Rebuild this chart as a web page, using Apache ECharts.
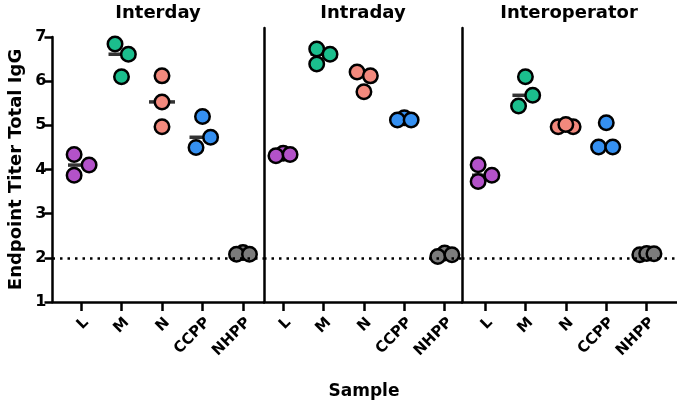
<!DOCTYPE html>
<html>
<head>
<meta charset="utf-8">
<script src="https://cdn.jsdelivr.net/npm/echarts@6/dist/echarts.min.js"></script>
<style>
html,body{margin:0;padding:0;background:#fff;}
#chart{width:677px;height:406px;}
</style>
</head>
<body>
<div id="chart"></div>
<script>
const categories = ['L', 'M', 'N', 'CCPP', 'NHPP'];
const panelNames = ['Interday', 'Intraday', 'Interoperator'];
const colors = ['#B352C9', '#1BBE8D', '#F2897D', '#3590F1', '#7C7C7C'];
const yTicks = [1, 2, 3, 4, 5, 6, 7];
const thresholdValue = 2;

// values per category (L, M, N, CCPP, NHPP)
const interdayValues = [
  [4.34, 4.10, 3.87],
  [6.84, 6.61, 6.10],
  [6.12, 5.53, 4.97],
  [5.20, 4.73, 4.50],
  [2.12, 2.08, 2.08]
];
const interdayJitter = [
  [-0.17, 0.20, -0.17],
  [-0.16, 0.17, 0.00],
  [0.00, 0.00, 0.00],
  [0.00, 0.20, -0.16],
  [0.00, -0.16, 0.16]
];
const intradayValues = [
  [4.37, 4.31, 4.34],
  [6.73, 6.61, 6.39],
  [6.21, 6.12, 5.76],
  [5.17, 5.12, 5.12],
  [2.11, 2.03, 2.07]
];
const intradayJitter = [
  [0.00, -0.18, 0.17],
  [-0.17, 0.16, -0.17],
  [-0.17, 0.16, 0.00],
  [0.00, -0.17, 0.17],
  [0.00, -0.17, 0.18]
];
const interoperatorValues = [
  [4.11, 3.87, 3.73],
  [6.10, 5.68, 5.44],
  [4.97, 4.97, 5.02],
  [5.06, 4.51, 4.51],
  [2.07, 2.10, 2.09]
];
const interoperatorJitter = [
  [-0.17, 0.17, -0.17],
  [0.00, 0.18, -0.17],
  [-0.19, 0.18, 0.00],
  [0.00, -0.19, 0.16],
  [-0.17, 0.00, 0.18]
];

const panelValues = [interdayValues, intradayValues, interoperatorValues];
const panelJitter = [interdayJitter, intradayJitter, interoperatorJitter];

function median(arr) {
  const s = arr.slice().sort((a, b) => a - b);
  const m = Math.floor(s.length / 2);
  return s.length % 2 ? s[m] : (s[m - 1] + s[m]) / 2;
}

const FONT = '"DejaVu Sans", "Liberation Sans", Arial, sans-serif';
const catIdx = categories.map((_, i) => i);

const grids = [
  { left: 52.5, width: 211.5, top: 37, height: 265 },
  { left: 264, width: 198, top: 28, height: 274 },
  { left: 462, width: 215, top: 28, height: 274 }
];
const xRanges = [
  [-0.7037, 4.5185],
  [-0.476, 4.43],
  [-0.569, 4.75]
];

const xAxes = grids.map((g, p) => ({
  type: 'value',
  gridIndex: p,
  min: xRanges[p][0],
  max: xRanges[p][1],
  splitLine: { show: false },
  axisLine: { show: true, onZero: false, lineStyle: { color: '#000', width: 2.5 } },
  axisTick: { show: true, customValues: catIdx, length: 9, lineStyle: { color: '#000', width: 2.5 } },
  axisLabel: {
    show: true, customValues: catIdx, rotate: 45, margin: 13, verticalAlign: 'top',
    formatter: v => categories[Math.round(v)],
    color: '#000', fontFamily: FONT, fontWeight: 'bold', fontSize: 15
  }
}));

const yAxes = grids.map((g, p) => ({
  type: 'value',
  gridIndex: p,
  min: 1,
  max: p === 0 ? 7 : 7 + 9 / 44.17,
  interval: 1,
  splitLine: { show: false },
  axisLine: { show: true, onZero: false, lineStyle: { color: '#000', width: 2.5 } },
  axisTick: { show: p === 0, length: 8, lineStyle: { color: '#000', width: 2.5 } },
  axisLabel: {
    show: p === 0, margin: 6, color: '#000', fontFamily: FONT, fontWeight: 'bold', fontSize: 16,
    formatter: v => (yTicks.indexOf(v) >= 0 ? String(v) : '')
  },
  name: p === 0 ? 'Endpoint Titer Total IgG' : '',
  nameLocation: 'middle',
  nameGap: 27,
  nameTextStyle: { color: '#000', fontFamily: FONT, fontWeight: 'bold', fontSize: 18 }
}));

const series = [];
panelValues.forEach((vals, p) => {
  // medians + threshold line
  series.push({
    type: 'scatter',
    xAxisIndex: p, yAxisIndex: p,
    symbol: 'rect', symbolSize: [26, 3.5],
    itemStyle: { color: '#000' },
    z: 2, silent: true,
    data: vals.map((arr, c) => [c, median(arr)]),
    markLine: {
      silent: true, symbol: 'none',
      label: { show: false },
      lineStyle: { color: '#000', width: 2.5, type: [2.5, 5] },
      data: [{ yAxis: thresholdValue }]
    }
  });
  vals.forEach((arr, c) => {
    series.push({
      type: 'scatter',
      xAxisIndex: p, yAxisIndex: p,
      symbol: 'circle', symbolSize: 14.5,
      z: 3, silent: true,
      itemStyle: { color: colors[c], borderColor: '#000', borderWidth: 2.5, opacity: 1 },
      data: arr.map((v, k) => [c + panelJitter[p][c][k], v])
    });
  });
});

const titleX = [158, 363, 569];
const graphic = panelNames.map((t, p) => ({
  type: 'text', x: titleX[p], y: 13,
  style: { text: t, fill: '#000', font: 'bold 18px ' + FONT, textAlign: 'center', textVerticalAlign: 'middle' }
}));
graphic.push({
  type: 'text', x: 364, y: 392,
  style: { text: 'Sample', fill: '#000', font: 'bold 17px ' + FONT, textAlign: 'center', textVerticalAlign: 'middle' }
});

const chart = echarts.init(document.getElementById('chart'), null, { renderer: 'canvas' });
chart.setOption({
  animation: false,
  backgroundColor: '#fff',
  grid: grids,
  xAxis: xAxes,
  yAxis: yAxes,
  series: series,
  graphic: graphic
});
</script>
</body>
</html>
